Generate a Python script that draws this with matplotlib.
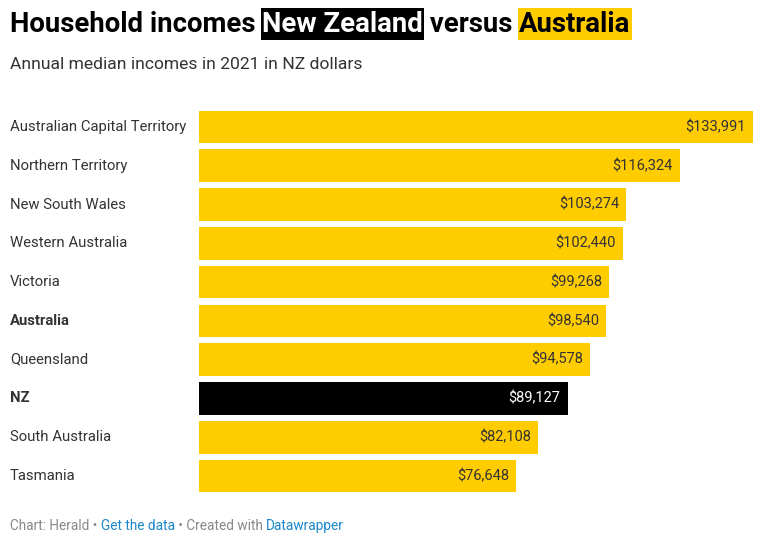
import matplotlib
matplotlib.use("Agg")
import matplotlib.pyplot as plt
from matplotlib.patches import Rectangle

categories = ["Australian Capital Territory", "Northern Territory", "New South Wales",
              "Western Australia", "Victoria", "Australia", "Queensland", "NZ",
              "South Australia", "Tasmania"]
values = [133991, 116324, 103274, 102440, 99268, 98540, 94578, 89127, 82108, 76648]
bold_labels = ["Australia", "NZ"]
highlight = "NZ"

YELLOW = "#ffcc00"
W, H = 772, 536
plt.rcParams['font.family'] = ['Roboto', 'DejaVu Sans']

fig = plt.figure(figsize=(W/100, H/100), dpi=100)
ax = fig.add_axes([199/W, 1-492.3/H, 554/W, (492.3-110.7)/H])

ys = list(range(len(categories)))
colors = ["black" if c == highlight else YELLOW for c in categories]
ax.barh(ys, values, height=0.84, color=colors)
ax.set_xlim(0, max(values))
ax.set_ylim(len(categories)-1+0.42, -0.42)
ax.axis("off")

blend = matplotlib.transforms.blended_transform_factory(fig.transFigure, ax.transData)
for y, c, v in zip(ys, categories, values):
    ax.text(v - max(values)*0.0125, y, f"${v:,}", ha="right", va="center",
            fontsize=10.5, color="white" if c == highlight else "#333333")
    fig.text(10/W, y, c, fontsize=10.7, color="#333333",
             fontweight="bold" if c in bold_labels else "normal",
             va="center", transform=blend)

renderer = fig.canvas.get_renderer()

def seq(pieces, x0, ybase, size, weight, boxes=None):
    x = x0
    for i, (txt, col) in enumerate(pieces):
        t = fig.text(x/W, 1-ybase/H, txt, fontsize=size, fontweight=weight, color=col,
                     va="baseline", ha="left", zorder=3)
        bb = t.get_window_extent(renderer)
        if boxes and boxes[i]:
            fig.patches.append(Rectangle((bb.x0-1, H-40), bb.width+2, 32,
                                         transform=None, facecolor=boxes[i],
                                         edgecolor="none", zorder=1))
        x = bb.x1

seq([("Household incomes ", "#000000"), ("New Zealand", "white"), (" versus ", "#000000"),
     ("Australia", "#000000")], 10, 32, 19.8, "bold",
    boxes=[None, "black", None, YELLOW])

fig.text(10/W, 1-69/H, "Annual median incomes in 2021 in NZ dollars", fontsize=12.6,
         color="#333333", va="baseline")

seq([("Chart: Herald • ", "#888888"), ("Get the data", "#1a87c9"), (" • Created with ", "#888888"),
     ("Datawrapper", "#1a87c9")], 10, 530, 9.85, "normal")

fig.savefig("out.png", dpi=100)
